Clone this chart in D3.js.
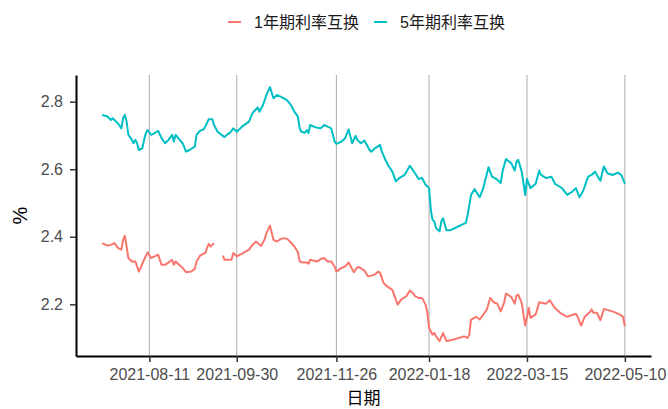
<!DOCTYPE html>
<html>
<head>
<meta charset="utf-8">
<script src="https://cdn.jsdelivr.net/npm/d3@7"></script>
<style>
  body { margin: 0; background: #fff; }
  svg { display: block; }
  text { font-family: "Liberation Sans", Arial, "Noto Sans CJK SC", sans-serif; }
</style>
</head>
<body>
<div id="chart"></div>
<script>
// 1Y swap rate (null = missing day, line breaks there)
const dates1y = [
  '2021-07-15','2021-07-18','2021-07-20','2021-07-22','2021-07-24','2021-07-26','2021-07-27','2021-07-28','2021-07-29','2021-07-30',
  '2021-08-01','2021-08-03','2021-08-05','2021-08-06','2021-08-08','2021-08-10','2021-08-12','2021-08-14','2021-08-16','2021-08-18',
  '2021-08-20','2021-08-22','2021-08-24','2021-08-25','2021-08-26','2021-08-28','2021-08-30','2021-09-01','2021-09-04','2021-09-06',
  '2021-09-07','2021-09-09','2021-09-11','2021-09-12','2021-09-13','2021-09-14','2021-09-15','2021-09-16','2021-09-17','2021-09-20',
  '2021-09-22','2021-09-23','2021-09-27','2021-09-28','2021-09-30','2021-10-03','2021-10-07','2021-10-09','2021-10-11','2021-10-14',
  '2021-10-16','2021-10-17','2021-10-19','2021-10-21','2021-10-23','2021-10-25','2021-10-27','2021-10-29','2021-10-31','2021-11-02',
  '2021-11-04','2021-11-05','2021-11-07','2021-11-09','2021-11-10','2021-11-11','2021-11-15','2021-11-17','2021-11-19','2021-11-21',
  '2021-11-23','2021-11-25','2021-11-26','2021-11-29','2021-12-01','2021-12-03','2021-12-06','2021-12-08','2021-12-09','2021-12-12',
  '2021-12-14','2021-12-16','2021-12-18','2021-12-20','2021-12-21','2021-12-23','2021-12-25','2021-12-28','2021-12-29','2021-12-31',
  '2022-01-02','2022-01-05','2022-01-07','2022-01-09','2022-01-10','2022-01-12','2022-01-14','2022-01-16','2022-01-17','2022-01-18',
  '2022-01-20','2022-01-21','2022-01-22','2022-01-24','2022-01-26','2022-01-28','2022-02-01','2022-02-07','2022-02-09','2022-02-10',
  '2022-02-11','2022-02-14','2022-02-16','2022-02-20','2022-02-22','2022-02-24','2022-02-26','2022-02-28','2022-03-02','2022-03-03',
  '2022-03-06','2022-03-08','2022-03-09','2022-03-10','2022-03-12','2022-03-13','2022-03-14','2022-03-16','2022-03-17','2022-03-20',
  '2022-03-22','2022-03-24','2022-03-26','2022-03-28','2022-03-31','2022-04-03','2022-04-07','2022-04-09','2022-04-12','2022-04-13',
  '2022-04-15','2022-04-17','2022-04-20','2022-04-21','2022-04-22','2022-04-24','2022-04-26','2022-04-28','2022-05-01','2022-05-04',
  '2022-05-07','2022-05-09','2022-05-10'
];
const rate1y = [
  2.381,2.374,2.376,2.381,2.367,2.362,2.391,2.403,2.371,2.337,
  2.327,2.327,2.297,2.308,2.332,2.354,2.337,2.342,2.347,2.317,
  2.317,2.324,2.332,2.317,2.327,2.317,2.308,2.295,2.297,2.305,
  2.327,2.344,2.350,2.352,2.367,2.379,2.371,2.376,2.381,null,
  2.344,2.332,2.332,2.352,2.342,2.350,2.362,2.376,2.386,2.373,
  2.393,2.411,2.433,2.391,2.386,2.393,2.396,2.393,2.383,2.371,
  2.354,2.327,2.324,2.324,2.320,2.332,2.327,2.334,2.337,2.327,
  2.327,2.312,2.297,2.308,2.312,2.324,2.295,2.310,2.310,2.300,
  2.283,2.285,2.288,2.297,2.293,2.263,2.253,2.243,2.229,2.199,
  2.214,2.224,2.241,2.232,2.224,2.219,2.219,2.199,2.175,2.130,
  2.110,2.115,2.105,2.091,2.115,2.091,2.096,2.105,2.101,2.110,
  2.155,2.163,2.155,2.184,2.219,2.206,2.202,2.179,2.206,2.232,
  2.222,2.202,2.226,2.229,2.204,2.170,2.137,2.189,2.160,2.170,
  2.206,2.204,2.202,2.212,2.189,2.175,2.163,2.167,2.172,2.163,
  2.137,2.163,2.177,2.185,2.175,2.175,2.153,2.186,2.182,2.177,
  2.170,2.163,2.135
];

// 5Y swap rate
const dates5y = [
  '2021-07-15','2021-07-18','2021-07-20','2021-07-21','2021-07-23','2021-07-24','2021-07-26','2021-07-27','2021-07-28','2021-07-29',
  '2021-07-30','2021-08-01','2021-08-02','2021-08-03','2021-08-04','2021-08-05','2021-08-07','2021-08-08','2021-08-09','2021-08-10',
  '2021-08-12','2021-08-14','2021-08-16','2021-08-18','2021-08-20','2021-08-22','2021-08-24','2021-08-25','2021-08-26','2021-08-28',
  '2021-08-30','2021-09-01','2021-09-03','2021-09-06','2021-09-07','2021-09-09','2021-09-11','2021-09-12','2021-09-14','2021-09-16',
  '2021-09-17','2021-09-19','2021-09-23','2021-09-25','2021-09-26','2021-09-28','2021-09-30','2021-10-03','2021-10-07','2021-10-09',
  '2021-10-12','2021-10-13','2021-10-15','2021-10-17','2021-10-19','2021-10-21','2021-10-23','2021-10-25','2021-10-27','2021-10-29',
  '2021-10-31','2021-11-02','2021-11-04','2021-11-05','2021-11-06','2021-11-08','2021-11-09','2021-11-10','2021-11-11','2021-11-14',
  '2021-11-17','2021-11-19','2021-11-21','2021-11-23','2021-11-25','2021-11-26','2021-11-29','2021-12-01','2021-12-03','2021-12-05',
  '2021-12-07','2021-12-08','2021-12-10','2021-12-12','2021-12-15','2021-12-16','2021-12-18','2021-12-21','2021-12-22','2021-12-24',
  '2021-12-26','2021-12-28','2021-12-30','2022-01-01','2022-01-04','2022-01-07','2022-01-08','2022-01-10','2022-01-12','2022-01-14',
  '2022-01-16','2022-01-18','2022-01-19','2022-01-20','2022-01-21','2022-01-22','2022-01-24','2022-01-25','2022-01-26','2022-01-28',
  '2022-01-30','2022-02-03','2022-02-08','2022-02-09','2022-02-11','2022-02-13','2022-02-16','2022-02-18','2022-02-21','2022-02-23',
  '2022-02-26','2022-02-28','2022-03-01','2022-03-03','2022-03-06','2022-03-08','2022-03-09','2022-03-10','2022-03-12','2022-03-13',
  '2022-03-14','2022-03-15','2022-03-17','2022-03-20','2022-03-22','2022-03-23','2022-03-26','2022-03-29','2022-03-31','2022-04-04',
  '2022-04-07','2022-04-10','2022-04-12','2022-04-14','2022-04-16','2022-04-19','2022-04-21','2022-04-23','2022-04-24','2022-04-26',
  '2022-04-27','2022-04-28','2022-04-30','2022-05-03','2022-05-06','2022-05-08','2022-05-10'
];
const rate5y = [
  2.761,2.756,2.746,2.751,2.741,2.736,2.721,2.751,2.761,2.741,
  2.702,2.687,2.677,2.687,2.677,2.657,2.662,2.687,2.707,2.716,
  2.702,2.707,2.714,2.692,2.677,2.687,2.702,2.682,2.702,2.689,
  2.677,2.652,2.657,2.667,2.702,2.714,2.718,2.726,2.748,2.748,
  2.731,2.711,2.695,2.705,2.707,2.721,2.711,2.726,2.741,2.766,
  2.783,2.770,2.790,2.820,2.843,2.810,2.820,2.815,2.810,2.803,
  2.790,2.770,2.756,2.721,2.711,2.708,2.716,2.707,2.731,2.724,
  2.721,2.731,2.726,2.721,2.682,2.675,2.682,2.692,2.718,2.677,
  2.699,2.687,2.677,2.685,2.657,2.652,2.662,2.672,2.652,2.628,
  2.608,2.593,2.564,2.574,2.583,2.610,2.603,2.588,2.571,2.574,
  2.554,2.544,2.480,2.450,2.445,2.426,2.416,2.445,2.455,2.419,
  2.419,2.429,2.441,2.462,2.524,2.541,2.517,2.544,2.606,2.578,
  2.569,2.559,2.593,2.630,2.618,2.596,2.623,2.628,2.593,2.559,
  2.524,2.571,2.544,2.557,2.596,2.583,2.574,2.578,2.557,2.544,
  2.524,2.534,2.544,2.517,2.534,2.578,2.583,2.593,2.583,2.566,
  2.588,2.608,2.588,2.583,2.590,2.583,2.557
];

const seriesNames = ['1年期利率互换', '5年期利率互换'];
const seriesColors = ['#F8766D', '#00BFC4'];
const xTickDates = ['2021-08-11', '2021-09-30', '2021-11-26', '2022-01-18', '2022-03-15', '2022-05-10'];
const yTicks = [2.2, 2.4, 2.6, 2.8];
const xTitle = '日期';
const yTitle = '%';

const width = 668, height = 409;
const margin = {top: 75, right: 17, bottom: 53, left: 76};
const parse = d3.timeParse('%Y-%m-%d');

const series = [
  dates1y.map((d, i) => ({date: parse(d), v: rate1y[i]})),
  dates5y.map((d, i) => ({date: parse(d), v: rate5y[i]}))
];

const svg = d3.select('#chart').append('svg')
  .attr('width', width)
  .attr('height', height);

svg.append('rect').attr('width', width).attr('height', height).attr('fill', '#fff');

// ggplot-style 5% expansion on the date axis
const allDates = series.flat().map(d => d.date);
const [d0, d1] = d3.extent(allDates);
const pad = (d1 - d0) * 0.05;
const x = d3.scaleTime()
  .domain([new Date(+d0 - pad), new Date(+d1 + pad)])
  .range([margin.left, width - margin.right]);

const y = d3.scaleLinear()
  .domain([2.047, 2.879])
  .range([height - margin.bottom, margin.top]);

// vertical grid lines
svg.append('g')
  .selectAll('line')
  .data(xTickDates.map(parse))
  .enter().append('line')
  .attr('x1', d => x(d)).attr('x2', d => x(d))
  .attr('y1', margin.top).attr('y2', height - margin.bottom)
  .attr('stroke', '#b3b3b3')
  .attr('stroke-width', 1.1);

const line = d3.line()
  .defined(d => d.v != null)
  .x(d => x(d.date))
  .y(d => y(d.v));

svg.append('g')
  .selectAll('path')
  .data(series)
  .enter().append('path')
  .attr('d', line)
  .attr('fill', 'none')
  .attr('stroke', (d, i) => seriesColors[i])
  .attr('stroke-width', 2)
  .attr('stroke-linejoin', 'round');

// axes
const xAxis = svg.append('g')
  .attr('transform', `translate(0,${height - margin.bottom})`)
  .call(d3.axisBottom(x)
    .tickValues(xTickDates.map(parse))
    .tickFormat(d3.timeFormat('%Y-%m-%d'))
    .tickSize(6)
    .tickSizeOuter(0)
    .tickPadding(7));

const yAxis = svg.append('g')
  .attr('transform', `translate(${margin.left},0)`)
  .call(d3.axisLeft(y)
    .tickValues(yTicks)
    .tickFormat(d3.format('.1f'))
    .tickSize(6)
    .tickSizeOuter(0)
    .tickPadding(7));

[xAxis, yAxis].forEach(g => {
  g.select('.domain').attr('stroke', '#000').attr('stroke-width', 2);
  g.selectAll('.tick line').attr('stroke', '#333').attr('stroke-width', 1.5);
  g.selectAll('.tick text')
    .attr('fill', '#4d4d4d')
    .style('font-size', '16px')
    .style('font-family', '"Liberation Sans", Arial, sans-serif');
});

// axis titles
svg.append('text')
  .attr('x', (margin.left + width - margin.right) / 2)
  .attr('y', 404)
  .attr('text-anchor', 'middle')
  .style('font-size', '17px')
  .style('font-family', '"Noto Sans CJK SC", sans-serif')
  .attr('fill', '#000')
  .text(xTitle);

svg.append('text')
  .attr('transform', `translate(27,${(margin.top + height - margin.bottom) / 2}) rotate(-90)`)
  .attr('text-anchor', 'middle')
  .style('font-size', '20px')
  .attr('fill', '#000')
  .text(yTitle);

// legend
const legendX = [228, 374];
const legend = svg.append('g')
  .selectAll('g')
  .data(seriesNames)
  .enter().append('g')
  .attr('transform', (d, i) => `translate(${legendX[i]},22)`);

legend.append('line')
  .attr('x1', 0).attr('x2', 13)
  .attr('stroke', (d, i) => seriesColors[i])
  .attr('stroke-width', 2);

legend.append('text')
  .attr('x', 26)
  .attr('y', 6)
  .style('font-size', '16px')
  .attr('fill', '#1a1a1a')
  .text(d => d);
</script>
</body>
</html>
